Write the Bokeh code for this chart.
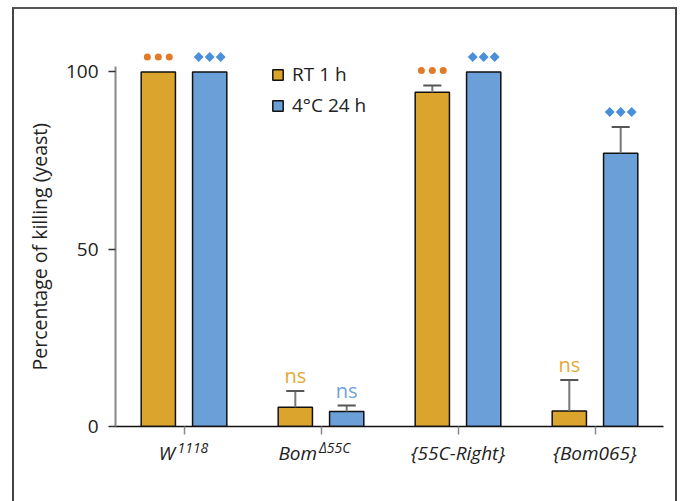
import math
from bokeh.plotting import figure
from bokeh.models import Range1d, FixedTicker, Legend, LegendItem, ColumnDataSource, LinearAxis, Title
from bokeh.embed import file_html
from bokeh.resources import INLINE
from bokeh.core.properties import value

# ---- data ----
genotype_base = ["W", "Bom", "{55C-Right}", "{Bom065}"]
genotype_sup = ["1118", "Δ55C", "", ""]
series = ["RT 1 h", "4°C 24 h"]
rt_mean = [100.0, 5.4, 94.3, 4.4]
rt_err = [0.0, 4.6, 1.9, 8.7]
cold_mean = [100.0, 4.2, 100.0, 77.1]
cold_err = [0.0, 1.7, 0.0, 7.4]
rt_sig = ["***", "ns", "***", "ns"]
cold_sig = ["***", "ns", "***", "***"]
y_ticks = [0, 50, 100]
y_axis_title = "Percentage of killing (yeast)"

# ---- style ----
FONT = "Open Sans"
GOLD = "#DBA42C"
BLUE = "#6A9FD8"
DOT = "#E07B2A"
DIAM = "#4A8FDA"
NS_GOLD = "#E3AA35"
NS_BLUE = "#6FA3DC"
TXT = "#222222"
BAR_W = 0.25
OFF = 0.1875
CAP = 0.066
BASE_SHIFT = [-0.125, -0.17, 0.0, 0.0]
SUP_SHIFT = [0.065, 0.1, 0.0, 0.0]

n = len(genotype_base)
centers = [i + 0.5 for i in range(n)]

p = figure(width=665, height=494, output_backend="svg", toolbar_location=None,
           x_range=Range1d(0, n), y_range=Range1d(0, 110),
           min_border_left=101, min_border_right=16, min_border_top=27, min_border_bottom=77,
           styles={"margin-left": "12px", "margin-top": "7px", "box-sizing": "border-box",
                   "border-left": "2px solid #444", "border-right": "2px solid #444",
                   "border-top": "2px solid #555"})
p.outline_line_color = None
p.grid.visible = False
p.background_fill_color = "white"
p.border_fill_color = "white"

groups = [
    (series[0], rt_mean, rt_err, rt_sig, -OFF, GOLD, DOT, "circle", 7, 0.0, NS_GOLD),
    (series[1], cold_mean, cold_err, cold_sig, OFF, BLUE, DIAM, "square", 7, math.pi / 4, NS_BLUE),
]
bar_renderers = []
for name, mean, err, sig, off, col, mcol, marker, msize, mangle, nscol in groups:
    xs = [c + off for c in centers]
    src = ColumnDataSource(dict(x=xs, top=mean))
    r = p.vbar(x="x", top="top", width=BAR_W, source=src, fill_color=col,
               line_color="#111111", line_width=1.5)
    bar_renderers.append(r)
    ex = [x for x, e in zip(xs, err) if e > 0]
    ey0 = [m for m, e in zip(mean, err) if e > 0]
    ey1 = [m + e for m, e in zip(mean, err) if e > 0]
    p.segment(x0=ex, y0=ey0, x1=ex, y1=ey1, line_color="#777777", line_width=2)
    p.segment(x0=[x - CAP for x in ex], y0=ey1, x1=[x + CAP for x in ex], y1=ey1,
              line_color="#555555", line_width=2)
    tops = [m + e for m, e in zip(mean, err)]
    mx, my, nx, ny = [], [], [], []
    for x, t, s in zip(xs, tops, sig):
        if s == "***":
            for k in (-1, 0, 1):
                mx.append(x + k * 0.08)
                my.append(t + 4.2)
        else:
            nx.append(x)
            ny.append(t + 4.3)
    p.scatter(x=mx, y=my, marker=marker, size=msize, angle=mangle, fill_color=mcol, line_color=None)
    p.text(x=nx, y=ny, text=["ns"] * len(nx), text_align="center", text_baseline="alphabetic",
           text_font=value(FONT), text_font_size="20px", text_color=nscol)

# ---- y axis ----
yax = p.yaxis[0]
yax.ticker = FixedTicker(ticks=y_ticks)
yax.bounds = (0, 101.6)
yax.axis_line_color = "#888888"
yax.axis_line_width = 2
yax.major_tick_line_color = "#333333"
yax.major_tick_line_width = 1.5
yax.major_tick_out = 7
yax.major_tick_in = 0
yax.minor_tick_line_color = None
yax.major_label_text_font = FONT
yax.major_label_text_font_size = "19px"
yax.major_label_text_color = TXT
yax.major_label_standoff = 10

ytitle = Title(text=y_axis_title, align="left", offset=56, standoff=19,
               text_font=FONT, text_font_size="19.5px", text_font_style="normal",
               text_color=TXT)
p.add_layout(ytitle, "left")

# ---- x axis: line + tick marks (minor ticks carry no labels) ----
xax = p.xaxis[0]
xax.ticker = FixedTicker(ticks=[], minor_ticks=centers)
xax.axis_line_color = "#111111"
xax.axis_line_width = 1.5
xax.major_tick_line_color = None
xax.minor_tick_line_color = "#888888"
xax.minor_tick_line_width = 1.5
xax.minor_tick_out = 8
xax.minor_tick_in = 0
xax.major_label_standoff = 0

# ---- x axis: category names (base text) and superscripts ----
base_pos = [c + s for c, s in zip(centers, BASE_SHIFT)]
base_ax = LinearAxis(ticker=FixedTicker(ticks=base_pos),
                     major_label_overrides={pos: t for pos, t in zip(base_pos, genotype_base)})
sup_items = [(c + s, t) for c, s, t in zip(centers, SUP_SHIFT, genotype_sup) if t]
sup_ax = LinearAxis(ticker=FixedTicker(ticks=[a for a, _ in sup_items]),
                    major_label_overrides={a: t for a, t in sup_items})
for ax, size, standoff in ((base_ax, "19px", 5), (sup_ax, "14px", -31)):
    ax.axis_line_color = None
    ax.major_tick_line_color = None
    ax.minor_tick_line_color = None
    ax.major_tick_out = 0
    ax.major_tick_in = 0
    ax.major_label_text_font = FONT
    ax.major_label_text_font_size = size
    ax.major_label_text_font_style = "italic"
    ax.major_label_text_color = TXT
    ax.major_label_standoff = standoff
    p.add_layout(ax, "below")

# ---- legend ----
legend = Legend(items=[LegendItem(label=series[0], renderers=[bar_renderers[0]]),
                       LegendItem(label=series[1], renderers=[bar_renderers[1]])],
                location=(156, 308), orientation="vertical")
legend.border_line_color = None
legend.background_fill_alpha = 0
legend.glyph_width = 13
legend.glyph_height = 13
legend.label_text_font = FONT
legend.label_text_font_size = "19px"
legend.label_text_color = TXT
legend.label_standoff = 8
legend.label_height = 25
legend.spacing = 5
legend.padding = 0
legend.margin = 0
p.add_layout(legend)

open("out.html", "w").write(file_html(p, INLINE))
